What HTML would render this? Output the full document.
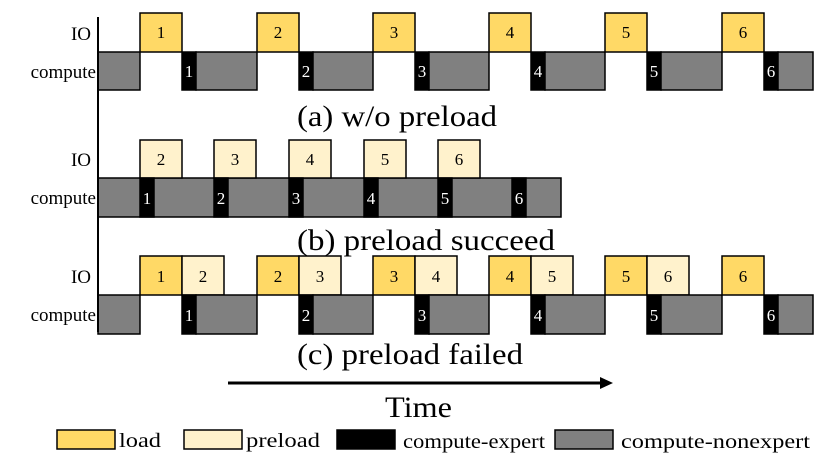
<!DOCTYPE html>
<html><head><meta charset="utf-8"><style>html,body{margin:0;padding:0;background:#fff}svg{display:block}</style></head><body>
<svg width="832" height="469" viewBox="0 0 832 469" xmlns="http://www.w3.org/2000/svg" font-family="Liberation Serif, serif">
<g stroke="#000" stroke-width="1.5">
<rect x="98" y="52" width="42" height="38" fill="#808080"/>
<rect x="140" y="13" width="42" height="39" fill="#FFD966"/>
<rect x="182" y="52" width="14" height="38" fill="#000"/>
<rect x="196" y="52" width="61" height="38" fill="#808080"/>
<rect x="257" y="13" width="42" height="39" fill="#FFD966"/>
<rect x="299" y="52" width="14" height="38" fill="#000"/>
<rect x="313" y="52" width="60" height="38" fill="#808080"/>
<rect x="373" y="13" width="42" height="39" fill="#FFD966"/>
<rect x="415" y="52" width="14" height="38" fill="#000"/>
<rect x="429" y="52" width="60" height="38" fill="#808080"/>
<rect x="489" y="13" width="42" height="39" fill="#FFD966"/>
<rect x="531" y="52" width="14" height="38" fill="#000"/>
<rect x="545" y="52" width="60" height="38" fill="#808080"/>
<rect x="605" y="13" width="42" height="39" fill="#FFD966"/>
<rect x="647" y="52" width="14" height="38" fill="#000"/>
<rect x="661" y="52" width="61" height="38" fill="#808080"/>
<rect x="722" y="13" width="42" height="39" fill="#FFD966"/>
<rect x="764" y="52" width="14" height="38" fill="#000"/>
<rect x="778" y="52" width="35" height="38" fill="#808080"/>
<rect x="98" y="178" width="463" height="39" fill="#808080"/>
<rect x="140" y="140" width="42" height="38" fill="#FFF2CC"/>
<rect x="214" y="140" width="42" height="38" fill="#FFF2CC"/>
<rect x="289" y="140" width="42" height="38" fill="#FFF2CC"/>
<rect x="364" y="140" width="42" height="38" fill="#FFF2CC"/>
<rect x="438" y="140" width="42" height="38" fill="#FFF2CC"/>
<rect x="140" y="178" width="14" height="39" fill="#000"/>
<rect x="214" y="178" width="14" height="39" fill="#000"/>
<rect x="289" y="178" width="14" height="39" fill="#000"/>
<rect x="364" y="178" width="14" height="39" fill="#000"/>
<rect x="438" y="178" width="14" height="39" fill="#000"/>
<rect x="512" y="178" width="14" height="39" fill="#000"/>
<rect x="98" y="295" width="42" height="39" fill="#808080"/>
<rect x="140" y="256" width="42" height="39" fill="#FFD966"/>
<rect x="182" y="256" width="42" height="39" fill="#FFF2CC"/>
<rect x="182" y="295" width="14" height="39" fill="#000"/>
<rect x="196" y="295" width="61" height="39" fill="#808080"/>
<rect x="257" y="256" width="42" height="39" fill="#FFD966"/>
<rect x="299" y="256" width="42" height="39" fill="#FFF2CC"/>
<rect x="299" y="295" width="14" height="39" fill="#000"/>
<rect x="313" y="295" width="60" height="39" fill="#808080"/>
<rect x="373" y="256" width="42" height="39" fill="#FFD966"/>
<rect x="415" y="256" width="42" height="39" fill="#FFF2CC"/>
<rect x="415" y="295" width="14" height="39" fill="#000"/>
<rect x="429" y="295" width="60" height="39" fill="#808080"/>
<rect x="489" y="256" width="42" height="39" fill="#FFD966"/>
<rect x="531" y="256" width="42" height="39" fill="#FFF2CC"/>
<rect x="531" y="295" width="14" height="39" fill="#000"/>
<rect x="545" y="295" width="60" height="39" fill="#808080"/>
<rect x="605" y="256" width="42" height="39" fill="#FFD966"/>
<rect x="647" y="256" width="42" height="39" fill="#FFF2CC"/>
<rect x="647" y="295" width="14" height="39" fill="#000"/>
<rect x="661" y="295" width="61" height="39" fill="#808080"/>
<rect x="722" y="256" width="42" height="39" fill="#FFD966"/>
<rect x="764" y="295" width="14" height="39" fill="#000"/>
<rect x="778" y="295" width="35" height="39" fill="#808080"/>
<rect x="57" y="430" width="58" height="19" fill="#FFD966"/>
<rect x="184" y="430" width="58" height="19" fill="#FFF2CC"/>
<rect x="337" y="430" width="58" height="19" fill="#000"/>
<rect x="555" y="430" width="58" height="19" fill="#808080"/>
</g>
<line x1="98" y1="17" x2="98" y2="332" stroke="#000" stroke-width="2"/>
<line x1="228" y1="383" x2="602" y2="383" stroke="#000" stroke-width="3"/>
<polygon points="600,377 613,383 600,389" fill="#000"/>
<g font-size="19" text-anchor="end" fill="#000">
<text x="91" y="40">IO</text><text x="96" y="78">compute</text>
<text x="91" y="166">IO</text><text x="96" y="204">compute</text>
<text x="91" y="283">IO</text><text x="96" y="321">compute</text>
</g>
<g font-size="17" text-anchor="middle" fill="#000">
<text x="161" y="38">1</text><text x="278" y="38">2</text><text x="394" y="38">3</text><text x="510" y="38">4</text><text x="626" y="38">5</text><text x="743" y="38">6</text>
<text x="161" y="165">2</text><text x="235" y="165">3</text><text x="310" y="165">4</text><text x="385" y="165">5</text><text x="459" y="165">6</text>
<text x="161" y="282">1</text><text x="203" y="282">2</text><text x="278" y="282">2</text><text x="320" y="282">3</text><text x="394" y="282">3</text><text x="436" y="282">4</text><text x="510" y="282">4</text><text x="552" y="282">5</text><text x="626" y="282">5</text><text x="668" y="282">6</text><text x="743" y="282">6</text>
</g>
<g font-size="17" text-anchor="middle" fill="#fff">
<text x="189" y="77">1</text><text x="306" y="77">2</text><text x="422" y="77">3</text><text x="538" y="77">4</text><text x="654" y="77">5</text><text x="771" y="77">6</text>
<text x="147" y="204">1</text><text x="221" y="204">2</text><text x="296" y="204">3</text><text x="371" y="204">4</text><text x="445" y="204">5</text><text x="519" y="204">6</text>
<text x="189" y="321">1</text><text x="306" y="321">2</text><text x="422" y="321">3</text><text x="538" y="321">4</text><text x="654" y="321">5</text><text x="771" y="321">6</text>
</g>
<g font-size="30" fill="#000">
<text x="297" y="126" textLength="200" lengthAdjust="spacingAndGlyphs">(a) w/o preload</text>
<text x="297" y="250" textLength="258" lengthAdjust="spacingAndGlyphs">(b) preload succeed</text>
<text x="297" y="364" textLength="226" lengthAdjust="spacingAndGlyphs">(c) preload failed</text>
<text x="385" y="417" textLength="67" lengthAdjust="spacingAndGlyphs">Time</text>
</g>
<g font-size="20" fill="#000">
<text x="119" y="447" textLength="42" lengthAdjust="spacingAndGlyphs">load</text>
<text x="246" y="447" textLength="74" lengthAdjust="spacingAndGlyphs">preload</text>
<text x="403" y="448" textLength="142" lengthAdjust="spacingAndGlyphs">compute-expert</text>
<text x="621" y="448" textLength="189" lengthAdjust="spacingAndGlyphs">compute-nonexpert</text>
</g>
</svg>
</body></html>
